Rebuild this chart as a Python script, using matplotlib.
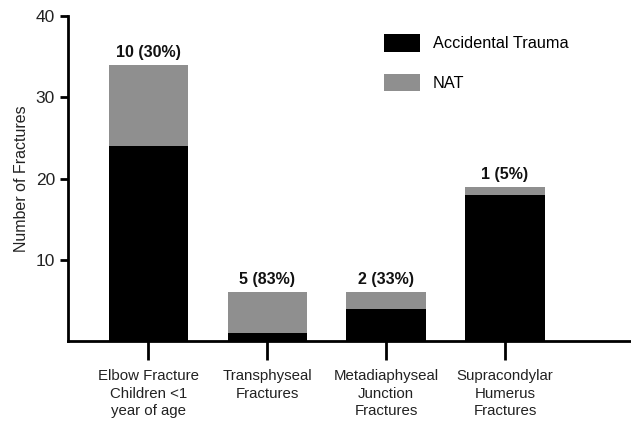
import numpy as np
import matplotlib.pyplot as plt

plt.rcParams['font.family'] = ['Liberation Sans', 'DejaVu Sans']

# Daten
kategoriak = ['Elbow Fracture\nChildren <1\nyear of age', 'Transphyseal\nFractures',
              'Metadiaphyseal\nJunction\nFractures', 'Supracondylar\nHumerus\nFractures']
baleset = [24, 1, 4, 18]   # Accidental Trauma
nat = [10, 5, 2, 1]        # NAT
cimkek = ['10 (30%)', '5 (83%)', '2 (33%)', '1 (5%)']

fig = plt.figure(figsize=(6.31, 4.21), dpi=100)
ax = fig.add_axes([0.108, 0.19, 0.892, 0.772])

x = np.arange(len(kategoriak))
w = 0.67
ax.bar(x, baleset, w, color='black', label='Accidental Trauma')
ax.bar(x, nat, w, bottom=baleset, color='#8f8f8f', label='NAT')

for xi, b, n, c in zip(x, baleset, nat, cimkek):
    ax.text(xi, b + n + 0.6, c, ha='center', va='bottom', fontsize=11.5, fontweight='bold',
            color='#111111')

ax.set_xlim(-0.676, 4.06)
ax.set_ylim(0, 40)
ax.set_yticks([10, 20, 30, 40])
ax.set_xticks(x)
ax.set_xticklabels(kategoriak, fontsize=10.8, linespacing=1.35)
ax.set_ylabel('Number of Fractures', fontsize=11.5, color='#222222', labelpad=5)

for s in ['top', 'right']:
    ax.spines[s].set_visible(False)
ax.spines['left'].set_linewidth(2)
ax.spines['bottom'].set_linewidth(2)
ax.tick_params(axis='y', width=2, length=6, labelsize=12.5, labelcolor='#222222')
ax.tick_params(axis='x', width=2, length=14, pad=6, labelcolor='#222222')

ax.legend(loc='upper left', bbox_to_anchor=(0.535, 0.99), frameon=False, fontsize=11.7,
          handlelength=2.2, handleheight=1.3, labelspacing=1.35, handletextpad=0.8)

plt.savefig('out.png', dpi=100)
